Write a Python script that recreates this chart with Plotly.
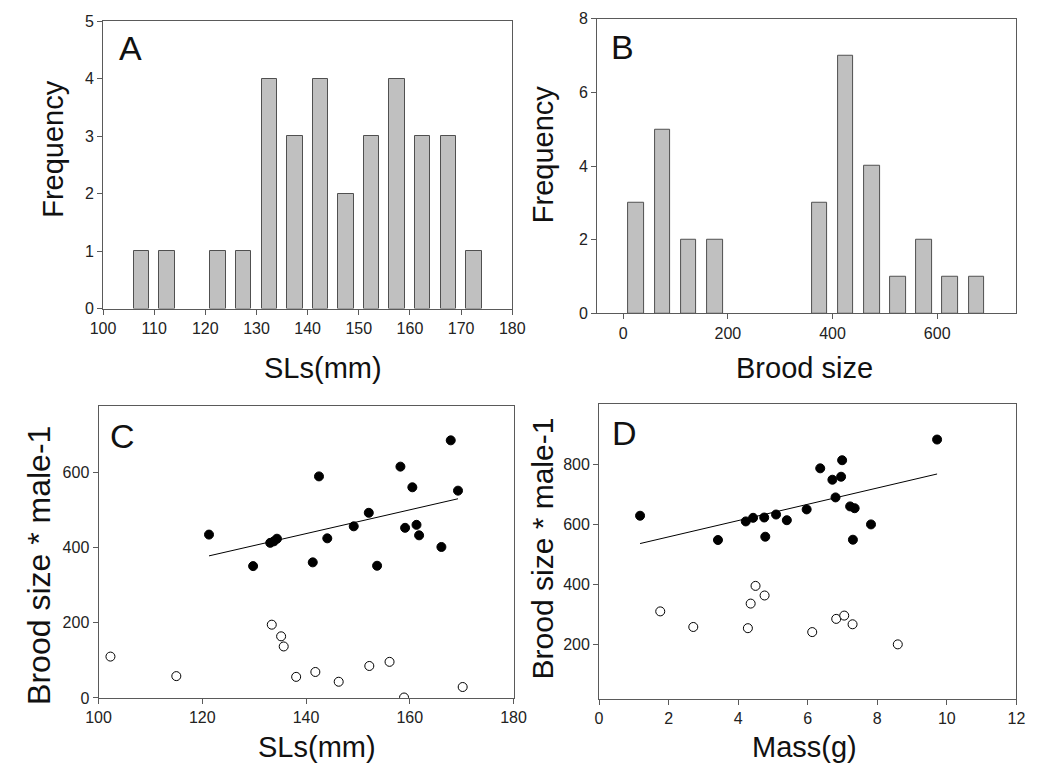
import numpy as np
import plotly.graph_objects as go

# ---------------- data ----------------
# Panel A: histogram of standard length (bin centres, counts)
sl_bins = [107.5, 112.5, 117.5, 122.5, 127.5, 132.5, 137.5, 142.5, 147.5, 152.5, 157.5, 162.5, 167.5, 172.5]
sl_counts = [1, 1, 0, 1, 1, 4, 3, 4, 2, 3, 4, 3, 3, 1]

# Panel B: histogram of brood size
brood_bins = [25, 75, 125, 175, 225, 275, 325, 375, 425, 475, 525, 575, 625, 675]
brood_counts = [3, 5, 2, 2, 0, 0, 0, 3, 7, 4, 1, 2, 1, 1]

# Panel C: brood size per male vs SL
c_fill_x = [121.3, 129.8, 133.1, 133.8, 134.4, 141.3, 142.5, 144.1, 149.2, 152.1,
            153.7, 158.2, 159.1, 160.5, 161.3, 161.8, 166.1, 167.9, 169.3]
c_fill_y = [435, 351, 413, 417, 424, 361, 590, 425, 457, 493,
            352, 616, 453, 561, 461, 433, 402, 686, 552]
c_open_x = [102.3, 115.0, 133.4, 135.2, 135.7, 138.1, 141.8, 146.3, 152.2, 156.1, 158.9, 170.2]
c_open_y = [110, 58, 195, 164, 137, 56, 69, 43, 85, 96, 1, 29]

# Panel D: brood size per male vs mass
d_fill_x = [1.18, 3.42, 4.22, 4.43, 4.75, 4.78, 5.09, 5.40, 5.97, 6.36,
            6.71, 6.80, 6.96, 6.99, 7.22, 7.35, 7.30, 7.82, 9.72]
d_fill_y = [630, 549, 611, 623, 624, 560, 634, 615, 651, 788,
            750, 691, 760, 815, 661, 655, 550, 601, 884]
d_open_x = [1.76, 2.71, 4.28, 4.36, 4.50, 4.76, 6.13, 6.82, 7.05, 7.29, 8.59]
d_open_y = [311, 259, 255, 337, 396, 364, 242, 286, 297, 268, 201]

# ---------------- figure ----------------
W, H = 1044, 778
FONT = "Liberation Sans, Arial, sans-serif"
AX = "#5a5a5a"


def xd(a, b):
    return [a / W, b / W]


def yd(top, bottom):
    return [1 - bottom / H, 1 - top / H]


fig = go.Figure()


def bar_style(counts):
    return dict(marker=dict(color="#c0c0c0",
                            line=dict(color="#505050", width=[1 if c > 0 else 0 for c in counts])),
                showlegend=False)


fig.add_trace(go.Bar(x=sl_bins, y=sl_counts, width=3, xaxis="x", yaxis="y", **bar_style(sl_counts)))
fig.add_trace(go.Bar(x=brood_bins, y=brood_counts, width=30, xaxis="x2", yaxis="y2", **bar_style(brood_counts)))

fill_m = dict(color="black", size=9, line=dict(color="black", width=1))
open_m = dict(color="white", size=9, line=dict(color="black", width=1))


def fit_line(x, y):
    x = np.asarray(x, float)
    y = np.asarray(y, float)
    k, b = np.polyfit(x, y, 1)
    xs = np.array([x.min(), x.max()])
    return xs, k * xs + b


for xa, ya, fx, fy, ox, oy in [("x3", "y3", c_fill_x, c_fill_y, c_open_x, c_open_y),
                                ("x4", "y4", d_fill_x, d_fill_y, d_open_x, d_open_y)]:
    lx, ly = fit_line(fx, fy)
    fig.add_trace(go.Scatter(x=lx, y=ly, mode="lines", line=dict(color="black", width=1),
                             xaxis=xa, yaxis=ya, showlegend=False))
    fig.add_trace(go.Scatter(x=fx, y=fy, mode="markers", marker=fill_m,
                             xaxis=xa, yaxis=ya, showlegend=False))
    fig.add_trace(go.Scatter(x=ox, y=oy, mode="markers", marker=open_m,
                             xaxis=xa, yaxis=ya, showlegend=False))

axis_common = dict(showline=True, linecolor=AX, linewidth=1, mirror=True, ticks="outside",
                   ticklen=5, tickcolor=AX, showgrid=False, zeroline=False,
                   tickfont=dict(family=FONT, size=16, color="#222"))

fig.update_layout(
    width=W, height=H, margin=dict(l=0, r=0, t=0, b=0),
    paper_bgcolor="white", plot_bgcolor="white", bargap=0,
    font=dict(family=FONT, color="#111"),
    xaxis=dict(domain=xd(92.3, 512), range=[100, 180], dtick=10, anchor="y", **axis_common),
    yaxis=dict(domain=yd(13.3, 307.3), range=[0, 5], dtick=1, anchor="x", **axis_common),
    xaxis2=dict(domain=xd(599, 1028.3), range=[-50, 750], tickvals=[0, 200, 400, 600], anchor="y2", **axis_common),
    yaxis2=dict(domain=yd(11, 312.3), range=[0, 8], dtick=2, anchor="x2", **axis_common),
    xaxis3=dict(domain=xd(87.7, 513.3), range=[100, 180], dtick=20, anchor="y3", **axis_common),
    yaxis3=dict(domain=yd(406.7, 705.3), range=[0, 778], tickvals=[0, 200, 400, 600], anchor="x3", **axis_common),
    xaxis4=dict(domain=xd(601, 1029), range=[0, 12], dtick=2, anchor="y4", **axis_common),
    yaxis4=dict(domain=yd(405, 706.7), range=[18, 1002], tickvals=[200, 400, 600, 800], anchor="x4", **axis_common),
)

ann = []


def add_text(text, x, y, size, angle=0):
    ann.append(dict(text=text, x=x / W, y=1 - y / H, xref="paper", yref="paper",
                    showarrow=False, textangle=angle, xanchor="center", yanchor="middle",
                    font=dict(family=FONT, size=size, color="#111")))


# panel letters
add_text("A", 120, 41, 34)
add_text("B", 625, 40, 34)
add_text("C", 112, 438, 34)
add_text("D", 627, 435, 34)
# axis titles
add_text("Frequency", 41, 144, 29, -90)
add_text("Frequency", 543, 149, 29, -90)
add_text("SLs(mm)", 318, 368, 29)
add_text("Brood size", 812, 368, 29)
add_text("Brood size * male-1", 26, 570, 32, -90)
add_text("Brood size * male-1", 543, 552, 30, -90)
add_text("SLs(mm)", 312, 756, 29)
add_text("Mass(g)", 812, 756, 29)
fig.update_layout(annotations=ann)

fig.write_html("out.html")
